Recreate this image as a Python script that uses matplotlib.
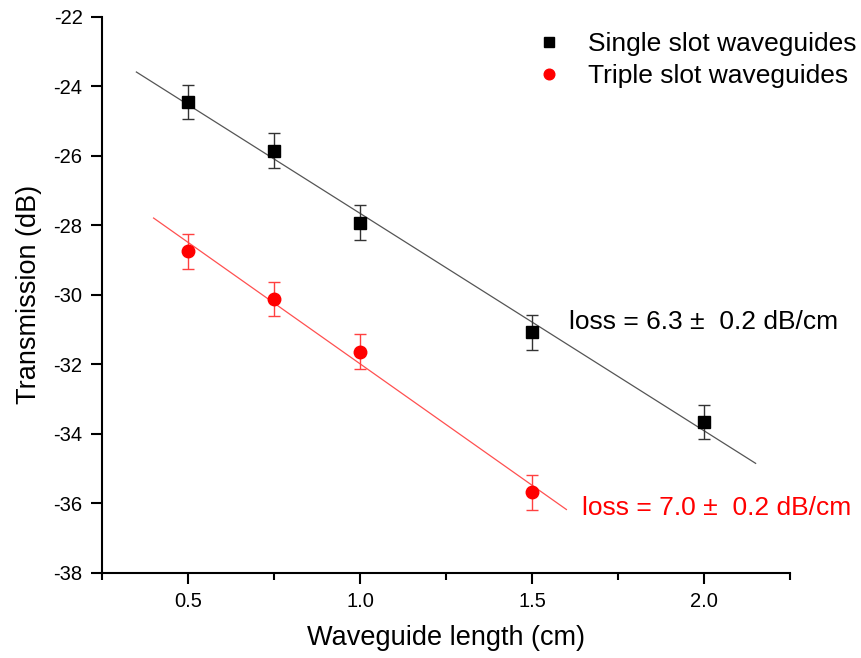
import numpy as np
import matplotlib
matplotlib.use("Agg")
import matplotlib.pyplot as plt
from matplotlib.ticker import MultipleLocator

plt.rcParams['font.family'] = ['Liberation Sans', 'DejaVu Sans']
plt.rcParams['axes.unicode_minus'] = False

# data
length_single = [0.5, 0.75, 1.0, 1.5, 2.0]
trans_single = [-24.45, -25.85, -27.92, -31.08, -33.66]
err_single = [0.5, 0.5, 0.5, 0.5, 0.5]

length_triple = [0.5, 0.75, 1.0, 1.5]
trans_triple = [-28.75, -30.12, -31.63, -35.68]
err_triple = [0.5, 0.5, 0.5, 0.5]

fit_range_single = (0.35, 2.15)
fit_range_triple = (0.40, 1.60)

label_single = "Single slot waveguides"
label_triple = "Triple slot waveguides"
text_single = "loss = 6.3 \u00b1  0.2 dB/cm"
text_triple = "loss = 7.0 \u00b1  0.2 dB/cm"

fig = plt.figure(figsize=(8.62, 6.58), dpi=100)
ax = fig.add_axes([0.1183, 0.1292, 0.7982, 0.8453])

# linear fits
p1 = np.polyfit(length_single, trans_single, 1)
p2 = np.polyfit(length_triple, trans_triple, 1)
xf1 = np.array(fit_range_single)
xf2 = np.array(fit_range_triple)
ax.plot(xf1, np.polyval(p1, xf1), color='#555555', lw=0.9, zorder=1)
ax.plot(xf2, np.polyval(p2, xf2), color='#ff5050', lw=0.9, zorder=1)

ax.errorbar(length_single, trans_single, yerr=err_single, fmt='s', color='black',
            ms=8, ecolor='#333333', elinewidth=1, capsize=4.5, capthick=1,
            label=label_single, zorder=3)
ax.errorbar(length_triple, trans_triple, yerr=err_triple, fmt='o', color='red',
            ms=9, ecolor='#ff4040', elinewidth=1, capsize=4.5, capthick=1,
            label=label_triple, zorder=3)

ax.text(1.607, -30.78, text_single, fontsize=19, color='black', va='center')
ax.text(1.645, -36.13, text_triple, fontsize=19, color='red', va='center')

ax.set_xlim(0.25, 2.25)
ax.set_ylim(-38, -22)
ax.xaxis.set_major_locator(MultipleLocator(0.5))
ax.xaxis.set_minor_locator(MultipleLocator(0.25))
ax.yaxis.set_major_locator(MultipleLocator(2))
ax.tick_params(axis='both', which='major', direction='out', length=8, width=1.5,
               labelsize=14.5, pad=6)
ax.tick_params(axis='x', which='minor', direction='out', length=5, width=1.5)

for s in ['top', 'right']:
    ax.spines[s].set_visible(False)
for s in ['left', 'bottom']:
    ax.spines[s].set_linewidth(1.5)

ax.set_xlabel("Waveguide length (cm)", fontsize=19.5, labelpad=10)
ax.set_ylabel("Transmission (dB)", fontsize=19.5, labelpad=8)

handles, labels = ax.get_legend_handles_labels()
handles = [h[0] for h in handles]
ax.legend(handles, labels, loc='upper left', bbox_to_anchor=(0.6265, 0.9726),
          borderaxespad=0, borderpad=0, frameon=False, fontsize=19,
          handletextpad=0.9, handlelength=1.2, labelspacing=0.3, markerscale=0.85)

fig.savefig("out.png", dpi=100)
